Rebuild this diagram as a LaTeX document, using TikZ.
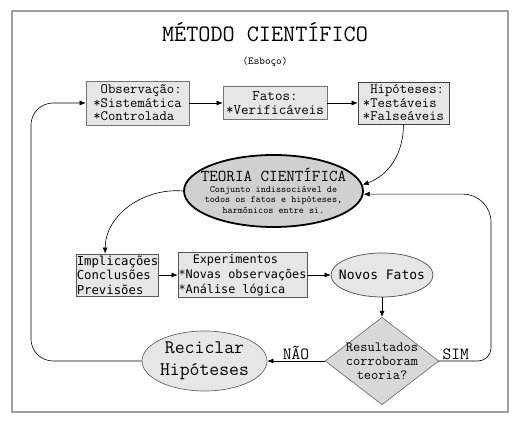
\documentclass[tikz,border=0pt]{standalone}
\usepackage{fontspec}
\usepackage{xcolor}
\usepackage{tikz}
\usetikzlibrary{arrows.meta, calc, shapes, positioning}

\newcommand\courfont{\ttfamily}
\newfontfamily\dejamono{DejaVu Sans Mono}
\definecolor{caixacinza}{HTML}{E6E6E6}
\definecolor{teoriacinza}{HTML}{D0D0D0}
\definecolor{losangocinza}{HTML}{D8D8D8}

\begin{document}
\begin{tikzpicture}[x=1pt, y=1pt,
    caixa/.style={rectangle, fill=caixacinza, draw=gray!90!black, line width=0.7pt, inner sep=0pt},
    bolha/.style={ellipse, fill=caixacinza, draw=gray!80!black, line width=0.7pt, inner sep=0pt, align=center},
    seta/.style={-{Latex[length=6pt,width=5pt]}, line width=0.6pt},
    rotulo/.style={font=\courfont\fontsize{17}{19}\selectfont, inner sep=1pt}]
    \fill[white] (0,0) rectangle (515,-422);
    \useasboundingbox (0,0) rectangle (515,-422);

    % Moldura e titulo
    \draw[gray!75, line width=2.5pt] (12,-11) rectangle (508,-412);
    \node[font=\courfont\fontsize{23.5}{26}\selectfont] (titulo) at (265,-32) {MÉTODO CIENTÍFICO};
    \node[font=\courfont\fontsize{10.7}{12}\selectfont] (esboco) at (265,-62) {(Esboço)};

    % Linha de cima
    \node[caixa, minimum width=103pt, minimum height=44pt, align=left,
          font=\courfont\fontsize{14.3}{13.5}\selectfont] (obs) at (137.5,-103)
          {\hphantom{x}Observação:\\*Sistemática\\*Controlada};
    \node[caixa, minimum width=104pt, minimum height=33pt, align=center,
          font=\courfont\fontsize{14.6}{13.5}\selectfont] (fatos) at (275,-103)
          {Fatos:\\*Verificáveis};
    \node[caixa, draw=black!75, minimum width=91pt, minimum height=42pt, align=left,
          font=\courfont\fontsize{14.3}{13.5}\selectfont] (hip) at (403.5,-103)
          {\hphantom{x}Hipóteses:\\*Testáveis\\*Falseáveis};

    % Teoria
    \node[ellipse, fill=teoriacinza, draw=black, line width=1.8pt, align=center,
          inner xsep=-11pt, inner ysep=0pt, minimum width=179pt, minimum height=72pt,
          font=\courfont\fontsize{9.7}{10.5}\selectfont] (teo) at (273.5,-191)
          {{\fontsize{16.6}{16}\selectfont TEORIA CIENTÍFICA}\\Conjunto indissociável de\\todos os fatos e hipóteses,\\harmônicos entre si.};

    % Linha de baixo
    \node[caixa, draw=black!65, minimum width=81pt, minimum height=42pt, align=left,
          font=\dejamono\fontsize{12.3}{14.5}\selectfont] (impl) at (117.5,-275)
          {Implicações\\Conclusões\\Previsões};
    \node[caixa, draw=black!65, minimum width=129pt, minimum height=45pt, align=left,
          font=\dejamono\fontsize{11.8}{15}\selectfont] (exp) at (242.5,-275)
          {\hphantom{xx}Experimentos\\*Novas observações\\*Análise lógica};
    \node[bolha, draw=black!70, inner xsep=-7pt, minimum width=102pt, minimum height=44pt,
          font=\dejamono\fontsize{13}{15}\selectfont] (novos) at (382,-275) {Novos Fatos};
    \node[diamond, aspect=1.3, fill=losangocinza, draw=gray!90!black, line width=0.7pt,
          inner xsep=-3pt, inner ysep=0pt, align=center,
          font=\courfont\fontsize{14}{14}\selectfont] (dec) at (382,-361)
          {Resultados\\corroboram\\teoria?};
    \node[bolha, inner xsep=-0.5pt, minimum width=125pt, minimum height=60pt,
          font=\courfont\fontsize{19.2}{22}\selectfont] (rec) at (204.5,-361)
          {Reciclar\\Hipóteses};

    % Setas retas
    \foreach \a/\b in {obs/fatos, fatos/hip, impl/exp, exp/novos, novos/dec}
        \draw[seta] (\a) -- (\b);

    % Setas curvas
    \draw[seta] (hip.south) to[out=-90, in=20] (teo.4);
    \draw[seta] (teo.west) to[out=175, in=90] (impl.120);
    \draw[seta] (dec) -- node[rotulo, above] {NÃO} (rec);

    \coordinate (volta) at (31,-230);
    \draw[seta, rounded corners=22pt] (rec.west) -| (volta) |- (obs.west);

    \coordinate (sobe) at (491,-280);
    \draw[seta] (dec.east) [rounded corners=13pt] -| node[rotulo, pos=0.16, above] {SIM} (sobe)
        [rounded corners=28pt] |- (teo.-2);
\end{tikzpicture}
\end{document}
